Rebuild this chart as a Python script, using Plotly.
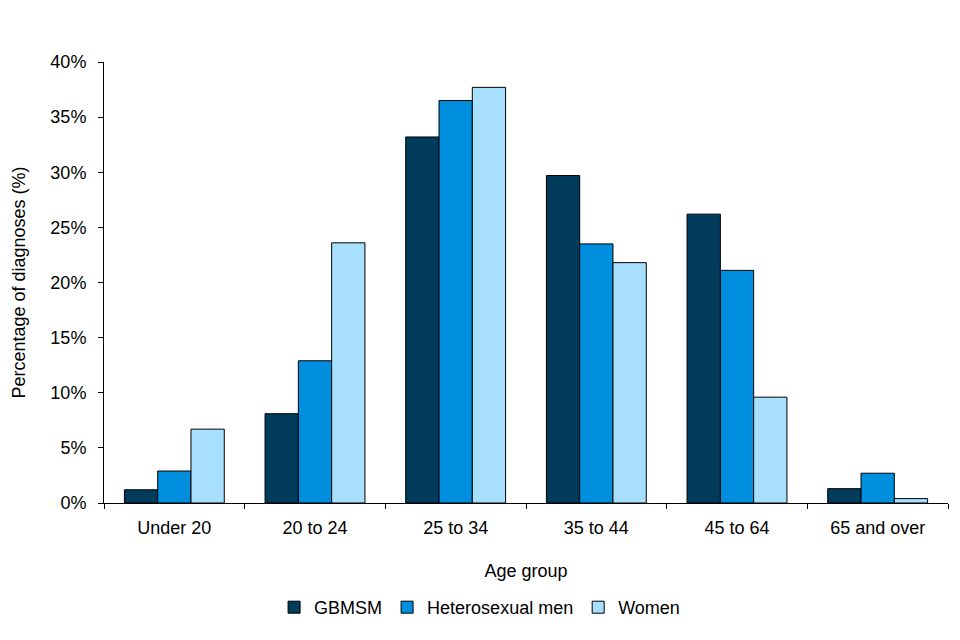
import plotly.graph_objects as go

categories = ["Under 20", "20 to 24", "25 to 34", "35 to 44", "45 to 64", "65 and over"]
gbmsm = [1.2, 8.1, 33.2, 29.7, 26.2, 1.3]
hetero_men = [2.9, 12.9, 36.5, 23.5, 21.1, 2.7]
women = [6.7, 23.6, 37.7, 21.8, 9.6, 0.4]

series = [
    ("GBMSM", gbmsm, "#003B5C"),
    ("Heterosexual men", hetero_men, "#008FDE"),
    ("Women", women, "#A8DFFC"),
]

fig = go.Figure()
for name, vals, col in series:
    fig.add_trace(go.Bar(
        x=categories, y=vals, name=name,
        marker=dict(color=col, line=dict(color="#000000", width=1)),
    ))

font = dict(family="Liberation Sans, Arial, sans-serif", size=18, color="#000000")

fig.update_layout(
    width=960, height=640,
    margin=dict(l=96, r=20, t=54, b=145),
    paper_bgcolor="white", plot_bgcolor="white",
    barmode="group", bargap=0.29, bargroupgap=0,
    font=font,
    showlegend=True,
    legend=dict(orientation="h", x=0.445, xanchor="center", y=-0.195, yanchor="top",
                font=font, traceorder="normal", itemwidth=30),
    xaxis=dict(
        title=dict(text="Age group", font=font, standoff=27),
        showline=True, linecolor="#000000", linewidth=1,
        ticks="outside", ticklen=5, tickcolor="#000000", tickson="boundaries",
        showgrid=False, range=[-0.5, 5.5], tickfont=font, automargin=False,
        ticklabelstandoff=8,
    ),
    yaxis=dict(
        title=dict(text="Percentage of diagnoses (%)", font=font, standoff=20),
        range=[0, 40], dtick=5, ticksuffix="%",
        showline=True, linecolor="#000000", linewidth=1,
        ticks="outside", ticklen=5, tickcolor="#000000",
        showgrid=False, zeroline=False, tickfont=font, automargin=False,
        ticklabelstandoff=8,
    ),
)

fig.write_html("out.html")
